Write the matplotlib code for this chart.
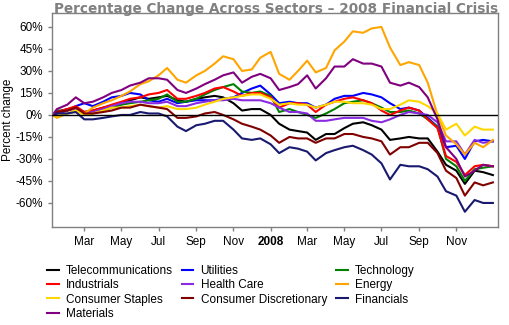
import pandas as pd
import matplotlib
matplotlib.use("Agg")
import matplotlib.pyplot as plt

# semi-monthly sample dates, Jan 2007 - Dec 2008
dates = pd.to_datetime([
    "2007-01-08", "2007-01-15", "2007-02-01", "2007-02-15", "2007-03-01", "2007-03-15",
    "2007-04-01", "2007-04-15", "2007-05-01", "2007-05-15", "2007-06-01", "2007-06-15",
    "2007-07-01", "2007-07-15", "2007-08-01", "2007-08-15", "2007-09-01", "2007-09-15",
    "2007-10-01", "2007-10-15", "2007-11-01", "2007-11-15", "2007-12-01", "2007-12-15",
    "2008-01-01", "2008-01-15", "2008-02-01", "2008-02-15", "2008-03-01", "2008-03-15",
    "2008-04-01", "2008-04-15", "2008-05-01", "2008-05-15", "2008-06-01", "2008-06-15",
    "2008-07-01", "2008-07-15", "2008-08-01", "2008-08-15", "2008-09-01", "2008-09-15",
    "2008-10-01", "2008-10-15", "2008-11-01", "2008-11-15", "2008-12-01", "2008-12-15",
    "2008-12-31",
])

# percent change since start, per sector
telecom = [0, 2, 4, 5, 2, 3, 5, 6, 8, 10, 12, 11, 12, 13, 10, 9, 11, 12, 13, 12, 8, 3, 4, 4,
           0, -6, -10, -11, -12, -17, -13, -13, -9, -6, -5, -7, -10, -17, -16, -15, -16, -16,
           -25, -34, -38, -47, -38, -39, -41]
utilities = [0, 1, 3, 6, 8, 6, 9, 12, 13, 15, 14, 10, 9, 11, 8, 9, 10, 10, 10, 11, 12, 15, 18, 20,
             14, 8, 9, 8, 8, 5, 7, 11, 13, 13, 15, 14, 12, 8, 4, 5, 3, -2,
             -8, -22, -21, -30, -18, -17, -18]
technology = [0, 3, 3, 5, 0, 1, 3, 5, 7, 8, 9, 10, 11, 14, 9, 9, 11, 14, 17, 19, 21, 16, 15, 16,
              13, 2, 4, 2, 0, -2, 1, 4, 8, 9, 10, 8, 5, 2, 2, 3, 1, -3,
              -8, -30, -35, -45, -37, -36, -35]
industrials = [0, 2, 4, 6, 2, 3, 5, 7, 9, 11, 12, 14, 15, 17, 11, 11, 13, 15, 18, 19, 16, 13, 15, 15,
               12, 5, 8, 8, 7, 2, 7, 9, 11, 12, 10, 8, 3, 0, 3, 5, 3, -3,
               -9, -28, -32, -41, -35, -34, -35]
health_care = [0, 1, 3, 4, 1, 2, 4, 6, 8, 9, 9, 8, 8, 9, 6, 6, 8, 9, 10, 10, 11, 10, 10, 10,
               8, 5, 2, 2, 1, -4, -4, -3, -2, -2, -2, -4, -5, -3, 0, 2, 1, 0,
               -5, -18, -18, -27, -17, -19, -18]
energy = [0, -2, 1, 3, 1, 5, 8, 10, 13, 16, 21, 23, 27, 32, 24, 22, 27, 30, 35, 40, 38, 30, 31, 39,
          43, 28, 24, 30, 37, 29, 32, 44, 50, 57, 56, 59, 60, 46, 34, 36, 34, 22,
          0, -14, -20, -27, -19, -22, -17]
cons_staples = [0, -1, 1, 3, 0, 1, 3, 5, 5, 6, 7, 6, 5, 6, 4, 4, 5, 7, 9, 11, 12, 13, 14, 14,
                11, 7, 8, 7, 7, 5, 7, 9, 9, 8, 8, 7, 4, 4, 7, 10, 9, 6,
                1, -10, -6, -14, -8, -10, -10]
cons_disc = [0, 2, 3, 5, 1, 1, 2, 3, 5, 5, 7, 6, 5, 4, -2, -2, -1, 1, 2, 0, -3, -6, -8, -10,
             -14, -19, -15, -16, -16, -19, -16, -16, -13, -13, -15, -16, -18, -27, -22, -22, -19, -19,
             -26, -38, -43, -55, -46, -48, -46]
financials = [0, 1, 1, 2, -3, -3, -2, -1, 0, 0, 2, 1, 1, -1, -8, -11, -7, -6, -4, -4, -10, -16, -17, -16,
              -20, -26, -22, -23, -25, -31, -26, -24, -22, -21, -24, -27, -33, -44, -34, -35, -35, -37,
              -42, -52, -55, -66, -58, -60, -60]
materials = [0, 4, 7, 12, 8, 9, 12, 15, 17, 20, 22, 25, 25, 24, 17, 15, 18, 21, 24, 27, 29, 22, 26, 28,
             25, 17, 19, 21, 27, 18, 25, 33, 33, 38, 35, 35, 33, 22, 20, 22, 19, 12,
             -3, -22, -30, -42, -38, -34, -35]

sectors = ["Telecommunications", "Industrials", "Consumer Staples", "Materials",
           "Utilities", "Health Care", "Consumer Discretionary",
           "Technology", "Energy", "Financials"]
series = [telecom, industrials, cons_staples, materials,
          utilities, health_care, cons_disc,
          technology, energy, financials]
colors = ["#000000", "#FF0000", "#FFD700", "#800080",
          "#0000FF", "#8A2BE2", "#800000",
          "#008000", "#FFA500", "#191970"]

# draw order (back to front)
draw_order = ["Telecommunications", "Utilities", "Technology", "Industrials", "Health Care",
              "Energy", "Consumer Staples", "Consumer Discretionary", "Financials", "Materials"]

tick_dates = pd.to_datetime(["2007-03-01", "2007-05-01", "2007-07-01", "2007-09-01", "2007-11-01",
                             "2008-01-01", "2008-03-01", "2008-05-01", "2008-07-01", "2008-09-01",
                             "2008-11-01"])
tick_labels = ["Mar", "May", "Jul", "Sep", "Nov", "2008", "Mar", "May", "Jul", "Sep", "Nov"]
y_ticks = [60, 45, 30, 15, 0, -15, -30, -45, -60]

plt.rcParams["font.family"] = ["Liberation Sans", "DejaVu Sans"]
fig = plt.figure(figsize=(5.1, 3.25), dpi=100)
ax = fig.add_axes([0.102, 0.3015, 0.874, 0.6585])

lines = {}
for name in draw_order:
    i = sectors.index(name)
    ln, = ax.plot(dates, series[i], color=colors[i], lw=1.5, label=name)
    lines[name] = ln

ax.axhline(0, color="black", lw=1, zorder=5)

ax.set_xlim(pd.Timestamp("2007-01-07"), pd.Timestamp("2009-01-08"))
ax.set_ylim(-76.4, 69.5)
ax.set_yticks(y_ticks)
ax.set_yticklabels([f"{v}%" for v in y_ticks])
ax.set_xticks(tick_dates)
ax.set_xticklabels(tick_labels)
for lbl in ax.get_xticklabels():
    if lbl.get_text() == "2008":
        lbl.set_fontweight("bold")

ax.tick_params(axis="both", labelsize=8.5, color="#808080", length=3, width=1)
for sp in ax.spines.values():
    sp.set_color("#808080")
    sp.set_linewidth(1)

ax.set_ylabel("Percent change", fontsize=8.5)
ax.yaxis.set_label_coords(-0.086, 0.5)
fig.text(0.542, 0.994, "Percentage Change Across Sectors \u2013 2008 Financial Crisis",
         ha="center", va="top", fontsize=9.8, fontweight="bold", color="#808080",
         family="DejaVu Sans")

fig.legend([lines[n] for n in sectors], sectors, loc="upper left",
           bbox_to_anchor=(0.092, 0.185), ncol=3, frameon=False, fontsize=8.5,
           handlelength=1.0, handletextpad=0.6, columnspacing=0.75,
           labelspacing=0.2, borderaxespad=0, borderpad=0)

fig.savefig("out.png", dpi=100)
